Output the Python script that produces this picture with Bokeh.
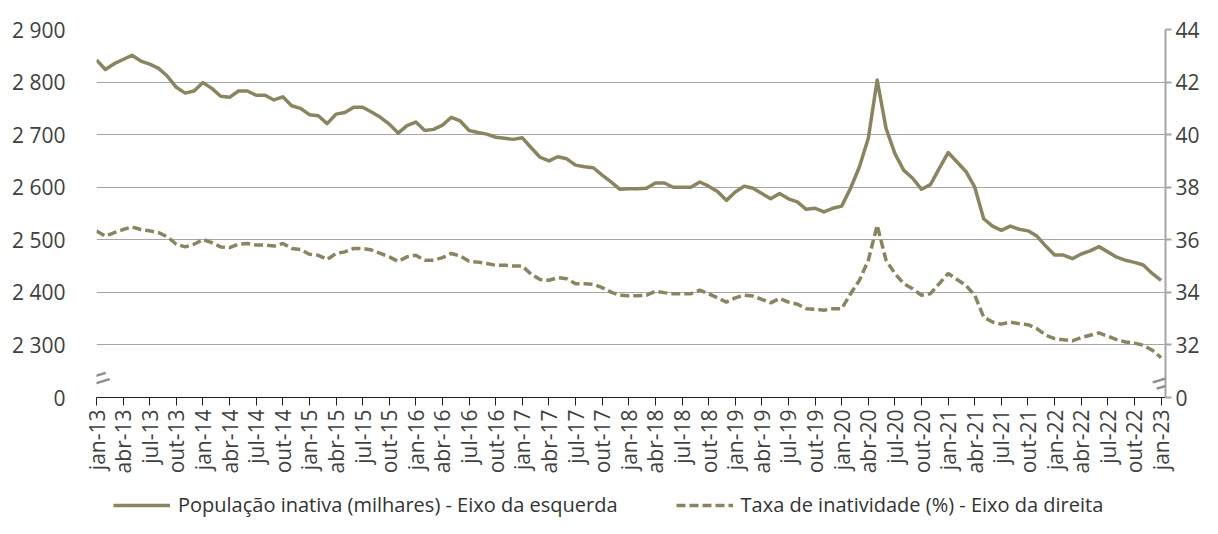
import math
from bokeh.plotting import figure
from bokeh.layouts import column
from bokeh.models import (Range1d, LinearAxis, FixedTicker, Legend, LegendItem,
                          Label, ColumnDataSource)
from bokeh.embed import file_html
from bokeh.resources import INLINE

meses = ["jan", "fev", "mar", "abr", "mai", "jun", "jul", "ago", "set", "out", "nov", "dez"]
periodos = [f"{meses[m]}-{13 + y}" for y in range(11) for m in range(12)][:121]

# População inativa (milhares) - eixo da esquerda
pop_inativa = [
    2842, 2824, 2835, 2843, 2851, 2840, 2834, 2826, 2811, 2790, 2779, 2783,
    2799, 2788, 2773, 2771, 2783, 2783, 2775, 2775, 2766, 2772, 2755, 2750,
    2738, 2736, 2721, 2739, 2742, 2752, 2752, 2743, 2733, 2720, 2703, 2717,
    2724, 2708, 2710, 2718, 2733, 2726, 2708, 2704, 2701, 2695, 2693, 2691,
    2694, 2675, 2657, 2650, 2658, 2654, 2642, 2639, 2637, 2623, 2610, 2596,
    2597, 2597, 2598, 2608, 2608, 2600, 2600, 2600, 2610, 2602, 2592, 2575,
    2591, 2602, 2598, 2588, 2578, 2588, 2578, 2572, 2558, 2560, 2553, 2560,
    2564, 2598, 2639, 2693, 2804, 2712, 2664, 2632, 2617, 2596, 2605, 2636,
    2666, 2648, 2630, 2600, 2540, 2526, 2518, 2526, 2520, 2517, 2507, 2488,
    2471, 2471, 2464, 2473, 2479, 2487, 2477, 2467, 2461, 2457, 2452, 2436,
    2423,
]

# Taxa de inatividade (%) - eixo da direita
taxa_inatividade = [
    36.33, 36.14, 36.27, 36.39, 36.49, 36.39, 36.34, 36.27, 36.11, 35.83, 35.73, 35.83,
    36.01, 35.89, 35.73, 35.70, 35.83, 35.86, 35.80, 35.80, 35.76, 35.86, 35.67, 35.63,
    35.45, 35.41, 35.25, 35.48, 35.54, 35.67, 35.67, 35.61, 35.48, 35.35, 35.18, 35.35,
    35.41, 35.22, 35.22, 35.32, 35.48, 35.38, 35.18, 35.15, 35.10, 35.03, 35.03, 35.00,
    35.00, 34.69, 34.49, 34.46, 34.56, 34.52, 34.33, 34.33, 34.31, 34.18, 34.01, 33.89,
    33.87, 33.87, 33.89, 34.04, 33.99, 33.95, 33.95, 33.95, 34.08, 33.95, 33.79, 33.63,
    33.79, 33.89, 33.86, 33.73, 33.60, 33.77, 33.63, 33.55, 33.38, 33.36, 33.32, 33.38,
    33.38, 33.95, 34.46, 35.22, 36.55, 35.22, 34.72, 34.33, 34.14, 33.89, 33.95, 34.33,
    34.72, 34.49, 34.27, 33.89, 33.06, 32.87, 32.79, 32.87, 32.81, 32.77, 32.62, 32.37,
    32.24, 32.20, 32.15, 32.28, 32.37, 32.46, 32.33, 32.20, 32.11, 32.07, 31.99, 31.80,
    31.52,
]

left_ticks = [2200, 2300, 2400, 2500, 2600, 2700, 2800, 2900]
left_tick_labels = ["0", "2 300", "2 400", "2 500", "2 600", "2 700", "2 800", "2 900"]
right_ticks = [30, 32, 34, 36, 38, 40, 42, 44]
right_tick_labels = ["0", "32", "34", "36", "38", "40", "42", "44"]

label_pop = "População inativa (milhares) - Eixo da esquerda"
label_taxa = "Taxa de inatividade (%) - Eixo da direita"

COR = "#8a8560"
FONT = "Open Sans"
TXT = "#404040"
SOLID = dict(line_color=COR, line_width=3.5, line_join="round")
DASHED = dict(line_color=COR, line_width=3.5, line_dash="9 4")

idx = list(range(len(periodos)))
src = ColumnDataSource(dict(x=idx, pop=pop_inativa, taxa=taxa_inatividade))

p = figure(width=1202, height=478, output_backend="svg", toolbar_location=None,
           x_range=Range1d(0, 120.5), y_range=Range1d(left_ticks[0], left_ticks[-1]),
           min_border_left=96, min_border_right=37, min_border_top=29, min_border_bottom=81)
p.outline_line_color = None
p.background_fill_color = "white"
p.border_fill_color = "white"
p.extra_y_ranges = {"taxa": Range1d(right_ticks[0], right_ticks[-1])}

# x axis
xa = p.xaxis[0]
xticks = list(range(0, len(periodos), 3))
xa.ticker = FixedTicker(ticks=xticks)
xa.major_label_overrides = {i: periodos[i] for i in xticks}
xa.major_label_orientation = math.pi / 2
xa.axis_line_color = "#202020"
xa.axis_line_width = 1
xa.major_tick_line_color = "#202020"
xa.major_tick_out = 8
xa.major_tick_in = 0
xa.minor_tick_line_color = None
xa.major_label_standoff = 4
xa.major_label_text_font = FONT
xa.major_label_text_font_size = "21px"
xa.major_label_text_color = TXT

# left axis
ya = p.yaxis[0]
ya.ticker = FixedTicker(ticks=left_ticks)
ya.major_label_overrides = dict(zip(left_ticks, left_tick_labels))
ya.axis_line_color = None
ya.major_tick_line_color = None
ya.minor_tick_line_color = None
ya.major_label_standoff = 25
ya.major_label_text_font = FONT
ya.major_label_text_font_size = "21px"
ya.major_label_text_color = TXT

# right axis
ra = LinearAxis(y_range_name="taxa", ticker=FixedTicker(ticks=right_ticks),
                major_label_overrides=dict(zip(right_ticks, right_tick_labels)),
                axis_line_color="#a6a6a6", axis_line_width=2,
                major_tick_line_color="#a6a6a6", major_tick_line_width=2,
                major_tick_out=6, major_tick_in=0, minor_tick_line_color=None,
                major_label_standoff=4, major_label_text_font=FONT,
                major_label_text_font_size="21px", major_label_text_color=TXT)
p.add_layout(ra, "right")

# grid
p.xgrid.visible = False
p.ygrid.ticker = FixedTicker(ticks=left_ticks[1:])
p.ygrid.grid_line_color = "#a6a6a6"
p.ygrid.grid_line_width = 1

r1 = p.line("x", "pop", source=src, **SOLID)
r2 = p.line("x", "taxa", source=src, y_range_name="taxa", **DASHED)

# axis break marks
for xv, yv, dx in [(0, 2245.5, -7), (0, 2233.5, -3), (120.5, 2244.5, 1), (120.5, 2232.5, 5)]:
    p.add_layout(Label(x=xv, y=yv, x_offset=dx, text="—", angle=0.29,
                       text_align="center", text_baseline="middle",
                       text_color="#909090", text_font=FONT, text_font_size="34px"))

# legend strip below the chart (series drawn outside its view, only the legend shows)
pl = figure(width=1202, height=40, output_backend="svg", toolbar_location=None,
            x_range=Range1d(0, 1), y_range=Range1d(0, 1),
            x_axis_location=None, y_axis_location=None,
            min_border=0, min_border_left=0, min_border_right=0,
            min_border_top=0, min_border_bottom=0)
pl.grid.visible = False
pl.outline_line_color = None
l1 = pl.line("x", "pop", source=src, **SOLID)
l2 = pl.line("x", "taxa", source=src, **DASHED)
legend = Legend(items=[LegendItem(label=label_pop, renderers=[l1]),
                       LegendItem(label=label_taxa, renderers=[l2])],
                location=(17, 0), orientation="horizontal",
                glyph_width=57, glyph_height=20, label_height=20,
                spacing=58, label_standoff=8, padding=0, margin=0,
                border_line_color=None, background_fill_alpha=0,
                label_text_font=FONT, label_text_font_size="20px",
                label_text_color="#333333")
pl.add_layout(legend, "center")

layout = column(p, pl, spacing=0)
open("out.html", "w").write(file_html(layout, INLINE))
